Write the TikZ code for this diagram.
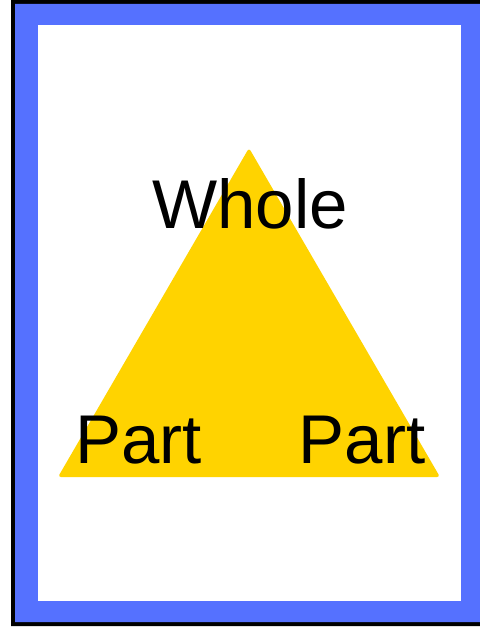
\documentclass[tikz,border=0pt]{standalone}
\usepackage{fontspec}
\setmainfont{Liberation Sans}
\usepackage{xcolor}
\definecolor{framblue}{HTML}{5571FF}
\definecolor{wholegold}{HTML}{FFD300}
\tikzset{
  label text/.style={inner sep=0pt,font=\fontsize{69}{69}\selectfont,text=black},
}
\begin{document}
\begin{tikzpicture}[x=1pt,y=-1pt]
  \useasboundingbox (0,0) rectangle (479,628);
  % outer frame: black edge, blue band, white page
  \fill[black,even odd rule] (11,0) rectangle (487,626) (15,4) rectangle (483,622);
  \fill[framblue,even odd rule] (15,4) rectangle (483,622) (38,25) rectangle (461,601);
  \fill[white] (38,25) rectangle (461,601);
  % the triangle
  \coordinate (apex) at (249,148);
  \coordinate (baseL) at (58,477);
  \coordinate (baseR) at (440,477);
  \fill[wholegold,rounded corners=3pt] (apex) -- (baseR) -- (baseL) -- cycle;
  % labels
  \node[label text,anchor=base] (whole) at (250,228) {Whole};
  \node[label text,anchor=base] (partL) at (138.5,463) {Part};
  \node[label text,anchor=base] (partR) at (362,463) {Part};
\end{tikzpicture}
\end{document}
